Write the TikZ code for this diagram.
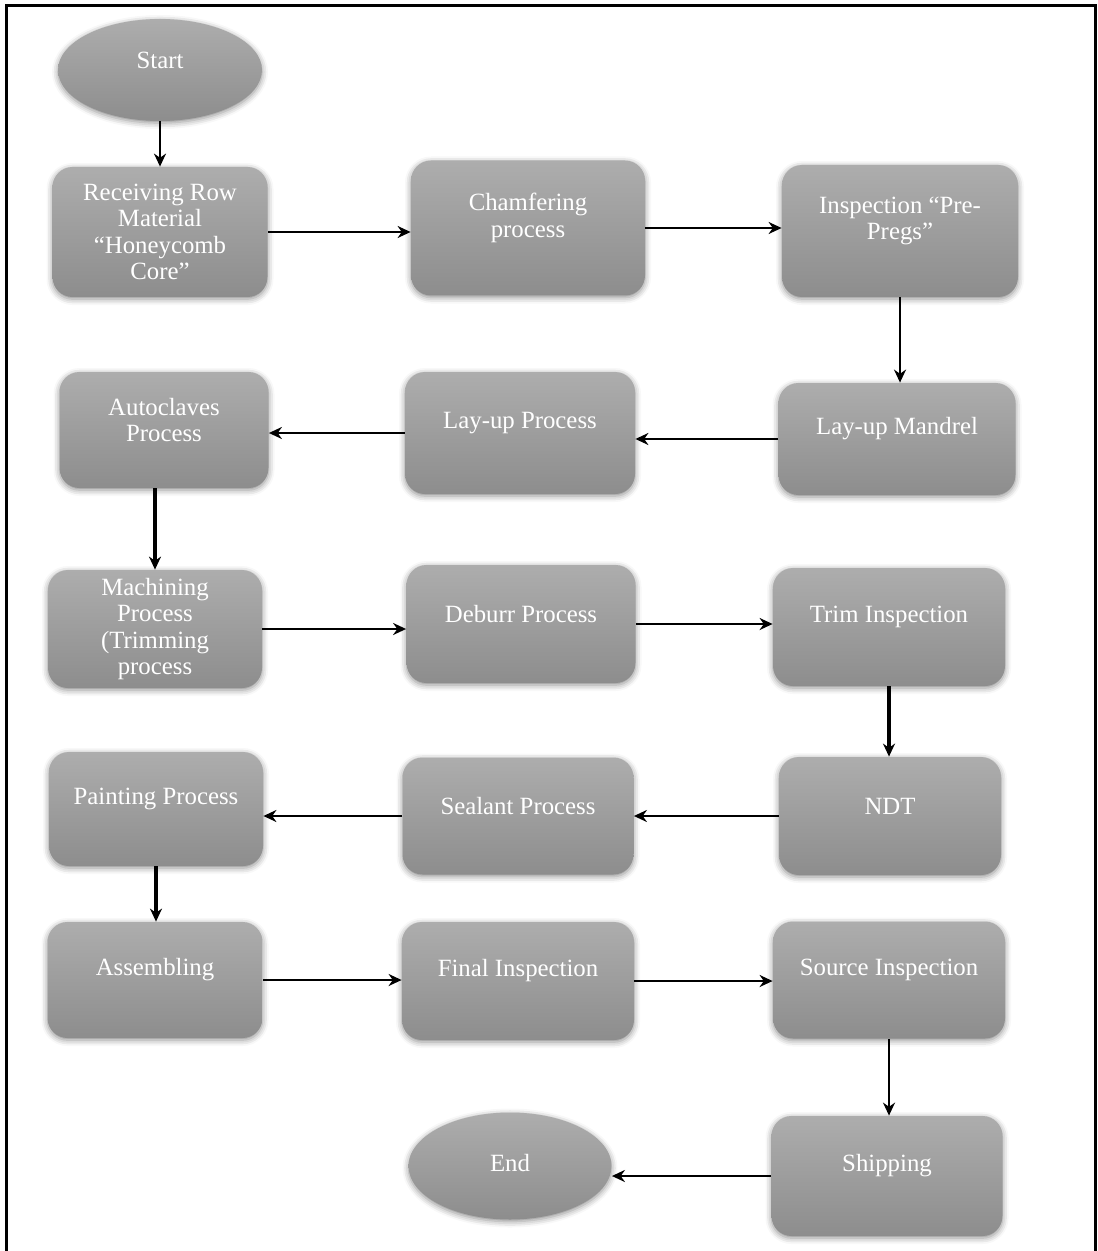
\documentclass[tikz,border=0pt]{standalone}
\usepackage{fontspec}
\setmainfont{Liberation Serif}
\usetikzlibrary{shapes.geometric,arrows.meta,shadows.blur}
\definecolor{grisHaut}{RGB}{173,173,173}
\definecolor{grisBas}{RGB}{141,141,141}

\begin{document}
\begin{tikzpicture}[x=0.5pt,y=-0.5pt,
  etape/.style={rectangle,rounded corners=10pt,minimum width=116pt,minimum height=59pt,
                top color=grisHaut,bottom color=grisBas,draw=none,
                blur shadow={shadow xshift=0pt,shadow yshift=-1pt,shadow blur radius=3pt,shadow opacity=45}},
  bout/.style={ellipse,minimum width=102pt,minimum height=51pt,
               top color=grisHaut,bottom color=grisBas,draw=none,
               blur shadow={shadow xshift=0pt,shadow yshift=-1pt,shadow blur radius=3pt,shadow opacity=45}},
  txt/.style={text=white,align=center,font=\fontsize{12.4}{13.2}\selectfont,yshift=#1},
  txt/.default=5pt,
  fleche/.style={-{Stealth[length=6.5pt,width=6pt]},line width=1.1pt},
  grosse/.style={line width=1.6pt}]

  \useasboundingbox (0,0) rectangle (1097,1251);
  \draw[line width=1.5pt] (6,1251) -- (6,6) -- (1095,6) -- (1095,1251);

  % premiere ligne
  \node[bout] (debut) at (160,70)
    [label={[txt]center:Start}] {};
  \node[etape,minimum width=107.5pt,minimum height=65pt] (recep) at (160,232)
    [label={[txt=0pt]center:Receiving Row\\Material\\“Honeycomb\\Core”}] {};
  \node[etape,minimum width=117pt,minimum height=67.5pt] (chanf) at (528,228)
    [label={[txt]center:Chamfering\\process}] {};
  \node[etape,minimum width=118pt,minimum height=66pt] (inspec) at (900,231)
    [label={[txt]center:Inspection “Pre-\\Pregs”}] {};

  % deuxieme ligne
  \node[etape,minimum width=118.5pt,minimum height=56pt] (mandrin) at (897,439)
    [label={[txt]center:Lay-up Mandrel}] {};
  \node[etape,minimum width=115pt,minimum height=61pt] (drapage) at (520,433)
    [label={[txt]center:Lay-up Process}] {};
  \node[etape,minimum width=104.5pt,minimum height=58pt] (autoclave) at (164,430)
    [label={[txt]center:Autoclaves\\Process}] {};

  % troisieme ligne
  \node[etape,minimum width=107pt] (usinage) at (155,629)
    [label={[txt=0pt]center:Machining\\Process\\(Trimming\\process}] {};
  \node[etape,minimum width=114.5pt] (ebavure) at (521,624)
    [label={[txt]center:Deburr Process}] {};
  \node[etape] (controle) at (889,627)
    [label={[txt]center:Trim Inspection}] {};

  % quatrieme ligne
  \node[etape,minimum width=111pt] (ndt) at (890,816)
    [label={[txt]center:NDT}] {};
  \node[etape,minimum width=115.5pt,minimum height=58.5pt] (mastic) at (518,816)
    [label={[txt]center:Sealant Process}] {};
  \node[etape,minimum width=107pt,minimum height=57pt] (peinture) at (156,809)
    [label={[txt]center:Painting Process}] {};

  % cinquieme ligne
  \node[etape,minimum width=107.5pt,minimum height=58pt] (assemblage) at (155,980)
    [label={[txt]center:Assembling}] {};
  \node[etape] (finale) at (518,981)
    [label={[txt]center:Final Inspection}] {};
  \node[etape,minimum height=58.5pt] (source) at (889,980)
    [label={[txt]center:Source Inspection}] {};

  % fin
  \node[etape,minimum width=115.5pt,minimum height=60pt] (expedition) at (887,1176)
    [label={[txt]center:Shipping}] {};
  \node[bout,minimum width=101.5pt,minimum height=53.5pt] (fin) at (510,1166)
    [label={[txt=1.5pt]center:End}] {};

  % fleches
  \draw[fleche] (debut) -- (recep);
  \draw[fleche] (recep.east) -- (recep.east -| chanf.west);
  \draw[fleche] (chanf.east) -- (chanf.east -| inspec.west);
  \draw[fleche] (inspec.south) -- (inspec.south |- mandrin.north);
  \draw[fleche] (mandrin.west) -- (mandrin.west -| drapage.east);
  \draw[fleche] (drapage.west) -- (drapage.west -| autoclave.east);
  \draw[fleche,grosse] (autoclave.south -| usinage) -- (usinage.north);
  \draw[fleche] (usinage.east) -- (usinage.east -| ebavure.west);
  \draw[fleche] (ebavure.east) -- (ebavure.east -| controle.west);
  \draw[fleche,grosse] (controle.south) -- (controle.south |- ndt.north);
  \draw[fleche] (ndt.west) -- (ndt.west -| mastic.east);
  \draw[fleche] (mastic.west) -- (mastic.west -| peinture.east);
  \draw[fleche,grosse] (peinture.south) -- (peinture.south |- assemblage.north);
  \draw[fleche] (assemblage.east) -- (assemblage.east -| finale.west);
  \draw[fleche] (finale.east) -- (finale.east -| source.west);
  \draw[fleche] (source.south) -- (source.south |- expedition.north);
  \draw[fleche] (expedition.west) -- (expedition.west -| fin.east);
\end{tikzpicture}
\end{document}
